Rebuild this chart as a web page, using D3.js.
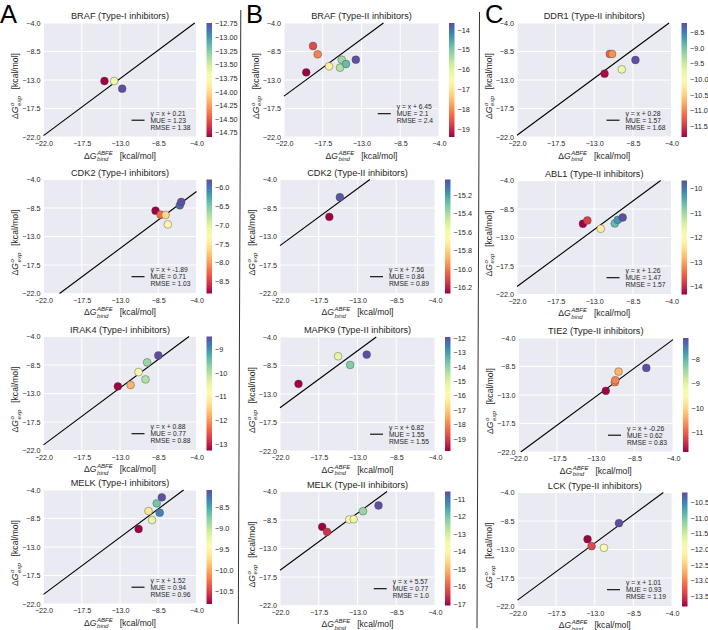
<!DOCTYPE html>
<html><head><meta charset="utf-8">
<script src="https://cdnjs.cloudflare.com/ajax/libs/d3/7.8.5/d3.min.js"></script>
<style>
body{margin:0;background:#fff}
svg{display:block}
text{font-family:"Liberation Sans",Arial,sans-serif;fill:#262626}
</style>
</head><body><svg id="c" width="708" height="630"></svg>
<script>
// ---------------- DATA ----------------
const titles = [
  "BRAF (Type-I inhibitors)", "CDK2 (Type-I inhibitors)", "IRAK4 (Type-I inhibitors)", "MELK (Type-I inhibitors)",
  "BRAF (Type-II inhibitors)", "CDK2 (Type-II inhibitors)", "MAPK9 (Type-II inhibitors)", "MELK (Type-II inhibitors)",
  "DDR1 (Type-II inhibitors)", "ABL1 (Type-II inhibitors)", "TIE2 (Type-II inhibitors)", "LCK (Type-II inhibitors)"
];
const panelLetters = ["A", "B", "C"];
const axisTicks = [-22.0, -17.5, -13.0, -8.5, -4.0];

// x = ΔG_bind^ABFE, y = ΔG_exp
const brafI_abfe  = [-14.83, -13.69, -12.74];
const brafI_exp   = [-13.16, -13.16, -14.37];
const cdk2I_abfe  = [-8.82, -8.23, -7.64, -7.37, -5.96, -5.80];
const cdk2I_exp   = [-8.92, -9.56, -9.61, -11.09, -8.07, -7.54];
const irak4I_abfe = [-13.25, -11.75, -10.82, -9.81, -10.00, -8.49];
const irak4I_exp  = [-11.87, -11.66, -9.61, -8.09, -10.77, -6.99];
const melkI_abfe  = [-8.08, -8.68, -8.33, -9.65, -9.23, -10.81];
const melkI_exp   = [-5.16, -6.11, -7.58, -7.32, -8.74, -10.16];

const brafII_abfe  = [-18.63, -18.09, -19.42, -16.77, -15.30, -15.49, -14.80, -13.66];
const brafII_exp   = [-7.63, -8.95, -11.79, -10.84, -9.79, -11.05, -10.47, -9.79];
const cdk2II_abfe  = [-16.27, -15.05];
const cdk2II_exp   = [-9.90, -6.80];
const mapk9II_abfe = [-19.85, -15.25, -13.85, -11.93];
const mapk9II_exp  = [-11.40, -7.04, -8.41, -6.78];
const melkII_abfe  = [-10.56, -12.36, -13.95, -13.44, -17.10, -16.54];
const melkII_exp   = [-6.21, -7.11, -8.42, -8.37, -9.58, -10.37];

const ddr1II_abfe = [-11.19, -10.92, -11.80, -9.79, -8.20];
const ddr1II_exp  = [-8.89, -8.89, -12.00, -11.32, -9.84];
const abl1II_abfe = [-14.32, -13.80, -12.24, -10.61, -10.26, -9.69];
const abl1II_exp  = [-10.83, -10.31, -11.62, -10.78, -10.21, -9.84];
const tie2II_abfe = [-11.83, -10.77, -10.72, -10.34, -7.11];
const tie2II_exp  = [-12.34, -10.98, -10.67, -9.30, -8.72];
const lckII_abfe  = [-13.84, -13.37, -11.93, -10.18];
const lckII_exp   = [-11.37, -12.47, -12.74, -8.84];

const abfeSets = [brafI_abfe, cdk2I_abfe, irak4I_abfe, melkI_abfe, brafII_abfe, cdk2II_abfe, mapk9II_abfe, melkII_abfe, ddr1II_abfe, abl1II_abfe, tie2II_abfe, lckII_abfe];
const expSets  = [brafI_exp, cdk2I_exp, irak4I_exp, melkI_exp, brafII_exp, cdk2II_exp, mapk9II_exp, melkII_exp, ddr1II_exp, abl1II_exp, tie2II_exp, lckII_exp];

const intercepts = [0.21, -1.89, 0.88, 1.52, 6.45, 7.56, 6.82, 5.57, 0.28, 1.26, -0.26, 1.01];
const mueLabels  = ["1.23", "0.71", "0.77", "0.94", "2.1", "0.84", "1.55", "0.77", "1.57", "1.47", "0.62", "0.93"];
const rmseLabels = ["1.38", "1.03", "0.88", "0.96", "2.4", "0.89", "1.55", "1.0", "1.68", "1.57", "0.83", "1.19"];

const cbarMin = [-14.83, -8.82, -13.25, -10.81, -19.42, -16.27, -19.85, -17.10, -11.85, -14.32, -11.83, -13.84];
const cbarMax = [-12.74, -5.80, -8.49, -8.08, -13.66, -15.03, -11.93, -10.56, -8.20, -9.69, -7.11, -10.18];
const cbarTicks = [
  [-12.75, -13.00, -13.25, -13.50, -13.75, -14.00, -14.25, -14.50, -14.75],
  [-6.0, -6.5, -7.0, -7.5, -8.0, -8.5],
  [-9, -10, -11, -12, -13],
  [-8.5, -9.0, -9.5, -10.0, -10.5],
  [-14, -15, -16, -17, -18, -19],
  [-15.2, -15.4, -15.6, -15.8, -16.0, -16.2],
  [-12, -13, -14, -15, -16, -17, -18, -19],
  [-11, -12, -13, -14, -15, -16, -17],
  [-8.5, -9.0, -9.5, -10.0, -10.5, -11.0, -11.5],
  [-10, -11, -12, -13, -14],
  [-8, -9, -10, -11],
  [-10.5, -11.0, -11.5, -12.0, -12.5, -13.0, -13.5]
];
const cbarDecimals = [2, 1, 0, 1, 0, 1, 0, 0, 1, 0, 0, 1];

// ---------------- LAYOUT ----------------
const panelLeft = [[43.5, 43.5, 43.5, 43.5], [284, 280, 280, 280], [517, 517, 518.5, 517.5]];
const panelTop  = [[23, 179.5, 336.5, 490], [23, 179.5, 337, 491.5], [23, 180.5, 338, 492.5]];
const colWidth  = [153, 155, 154.5];
const plotH = 114;
const letterX = [0, 246, 485];
const legendShift = [0, 0, 0, 0, -6.5, 0, 0, 0, 0, 0, 0, 0];

const svg = d3.select("#c");
const minus = s => s.replace(/-/g, "\u2212");
const fmt = (v, d) => minus(v.toFixed(d));
const FONT = '"Liberation Sans",Arial,sans-serif';

function mathLabel(parent, sup, sub, fs) {
  const outer = parent.append("g");
  const g = outer.append("g");
  const t = g.append("text").attr("font-size", fs);
  t.append("tspan").text("Δ");
  t.append("tspan").attr("font-style", "italic").text("G");
  const w0 = t.node().getComputedTextLength() + 0.6;
  const sfs = fs * 0.7;
  const a = g.append("text").attr("x", w0).attr("y", -fs * 0.42).attr("font-size", sfs).attr("font-style", "italic").text(sup);
  const b = g.append("text").attr("x", w0).attr("y", fs * 0.3).attr("font-size", sfs).attr("font-style", "italic").text(sub);
  const w1 = Math.max(a.node().getComputedTextLength(), b.node().getComputedTextLength());
  const x2 = w0 + w1 + fs * 0.8;
  const c = g.append("text").attr("x", x2).attr("font-size", fs).text("[kcal/mol]");
  const total = x2 + c.node().getComputedTextLength();
  g.attr("transform", `translate(${-total / 2},0)`);
  return outer;
}

const defs = svg.append("defs");

for (let i = 0; i < 12; i++) {
  const col = Math.floor(i / 4), row = i % 4;
  const L = panelLeft[col][row], T = panelTop[col][row], W = colWidth[col], H = plotH;
  const x = d3.scaleLinear().domain([-22, -4]).range([L, L + W]);
  const y = d3.scaleLinear().domain([-22, -4]).range([T + H, T]);
  const color = v => d3.interpolateSpectral((v - cbarMin[i]) / (cbarMax[i] - cbarMin[i]));
  const g = svg.append("g");

  // background
  g.append("rect").attr("x", L).attr("y", T).attr("width", W).attr("height", H).attr("fill", "#EAEAF2");
  // grid
  g.selectAll(".gx").data(axisTicks).join("line")
    .attr("x1", d => x(d)).attr("x2", d => x(d)).attr("y1", T).attr("y2", T + H)
    .attr("stroke", "#fff").attr("stroke-width", 1);
  g.selectAll(".gy").data(axisTicks).join("line")
    .attr("y1", d => y(d)).attr("y2", d => y(d)).attr("x1", L).attr("x2", L + W)
    .attr("stroke", "#fff").attr("stroke-width", 1);

  // axes via d3
  const xa = g.append("g").attr("transform", `translate(0,${T + H})`)
    .call(d3.axisBottom(x).tickValues(axisTicks).tickSize(0).tickPadding(4).tickFormat(d => fmt(d, 1)));
  const ya = g.append("g").attr("transform", `translate(${L},0)`)
    .call(d3.axisLeft(y).tickValues(axisTicks).tickSize(0).tickPadding(3).tickFormat(d => fmt(d, 1)));
  [xa, ya].forEach(a => {
    a.select(".domain").remove();
    a.selectAll("text").attr("font-size", 7.2).attr("fill", "#333").style("font-family", FONT);
  });

  // fit line y = x + c, clipped to plot
  const c = intercepts[i];
  const x0 = Math.max(-22, -22 - c), x1 = Math.min(-4, -4 - c);
  g.append("line").attr("x1", x(x0)).attr("y1", y(x0 + c)).attr("x2", x(x1)).attr("y2", y(x1 + c))
    .attr("stroke", "#000").attr("stroke-width", 1.1);

  // points
  const pts = abfeSets[i].map((v, k) => ({ a: v, e: expSets[i][k] }));
  g.selectAll(".pt").data(pts).join("circle")
    .attr("cx", d => x(d.a)).attr("cy", d => y(d.e)).attr("r", 3.9)
    .attr("fill", d => color(d.a)).attr("stroke", "#444").attr("stroke-width", 0.4);

  // title
  g.append("text").attr("x", L + W / 2).attr("y", T - 4).attr("text-anchor", "middle")
    .attr("font-size", 9.2).text(titles[i]);

  // x label
  mathLabel(g, "ABFE", "bind", 8.6).attr("transform", `translate(${L + W / 2},${T + H + 21.5})`);
  // y label
  mathLabel(g, "o", "exp", 8.6).attr("transform", `translate(${L - 25.5},${T + H / 2 + 6}) rotate(-90)`);

  // legend
  const lines = ["y = x + " + c, "MUE = " + mueLabels[i], "RMSE = " + rmseLabels[i]];
  const lg = g.append("g").attr("transform", `translate(0,${legendShift[i]})`);
  const texts = lines.map((s, k) => lg.append("text").attr("font-size", 6.7)
    .attr("y", T + H - 21.5 + k * 7).text(s));
  const maxW = d3.max(texts, t => t.node().getComputedTextLength());
  const tx = L + W - 6 - maxW;
  texts.forEach(t => t.attr("x", tx));
  lg.append("line").attr("x1", tx - 19).attr("x2", tx - 6).attr("y1", T + H - 16.8).attr("y2", T + H - 16.8)
    .attr("stroke", "#000").attr("stroke-width", 1.1);

  // colorbar
  const cbX = L + W + 10, cbW = 5.5;
  const gid = "grad" + i;
  const grad = defs.append("linearGradient").attr("id", gid).attr("x1", 0).attr("y1", 1).attr("x2", 0).attr("y2", 0);
  d3.range(0, 1.0001, 0.05).forEach(t => grad.append("stop").attr("offset", t).attr("stop-color", d3.interpolateSpectral(t)));
  g.append("rect").attr("x", cbX).attr("y", T).attr("width", cbW).attr("height", H).attr("fill", `url(#${gid})`);
  const cb = d3.scaleLinear().domain([cbarMin[i], cbarMax[i]]).range([T + H, T]);
  const ca = g.append("g").attr("transform", `translate(${cbX + cbW},0)`)
    .call(d3.axisRight(cb).tickValues(cbarTicks[i]).tickSize(0).tickPadding(3).tickFormat(d => fmt(d, cbarDecimals[i])));
  ca.select(".domain").remove();
  ca.selectAll("text").attr("font-size", 7.3).attr("fill", "#333").style("font-family", FONT);
}

// panel letters
panelLetters.forEach((s, k) => {
  svg.append("text").attr("x", letterX[k]).attr("y", 23).attr("font-size", 25.5).style("fill", "#000").text(s);
});
// dividers
svg.append("line").attr("x1", 240.8).attr("y1", 10).attr("x2", 238.3).attr("y2", 624).attr("stroke", "#333").attr("stroke-width", 1);
svg.append("line").attr("x1", 479.5).attr("y1", 12).attr("x2", 477).attr("y2", 628).attr("stroke", "#333").attr("stroke-width", 1);
</script>
</body></html>
